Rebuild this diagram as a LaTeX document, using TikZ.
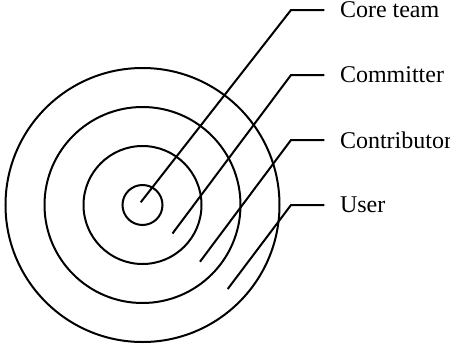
\documentclass[tikz,border=0pt]{standalone}
\usepackage{fontspec}
\setmainfont{Liberation Serif}
\begin{document}
\begin{tikzpicture}[
    x=0.5pt, y=0.5pt,
    line width=1pt,
    ring/.style={
        circle,
        draw=black,
        inner sep=0pt
    },
    role/.style={
        anchor=west,
        inner xsep=7.35pt,
        inner ysep=0pt,
        font=\fontsize{12}{14}\selectfont
    }
]
\useasboundingbox (0,0) rectangle (450,344);

% Rings
\node[ring, minimum size=20pt]   (core)    at (142.5,139) {};
\node[ring, minimum size=59pt]   (commit)  at (142.5,139) {};
\node[ring, minimum size=98pt]   (contrib) at (142.5,139) {};
\node[ring, minimum size=137pt]  (user)    at (142.5,139) {};

% Leader starts and knees
\coordinate (s1) at (140.7,141.7);
\coordinate (s2) at (172.5,110.5);
\coordinate (s3) at (200.0,82.3);
\coordinate (s4) at (227.7,55.0);
\coordinate (k1) at (291,334);
\coordinate (k2) at (291,269);
\coordinate (k3) at (291,204);
\coordinate (k4) at (291,139);

% Labels
\node[role] (l1) at (324.3,334) {Core team};
\node[role] (l2) at (324.3,269) {Committer};
\node[role] (l3) at (324.3,204) {Contributor};
\node[role] (l4) at (324.3,139) {User};

% Leaders
\draw (s1) -- (k1) -- (l1.west);
\draw (s2) -- (k2) -- (l2.west);
\draw (s3) -- (k3) -- (l3.west);
\draw (s4) -- (k4) -- (l4.west);

\end{tikzpicture}
\end{document}
